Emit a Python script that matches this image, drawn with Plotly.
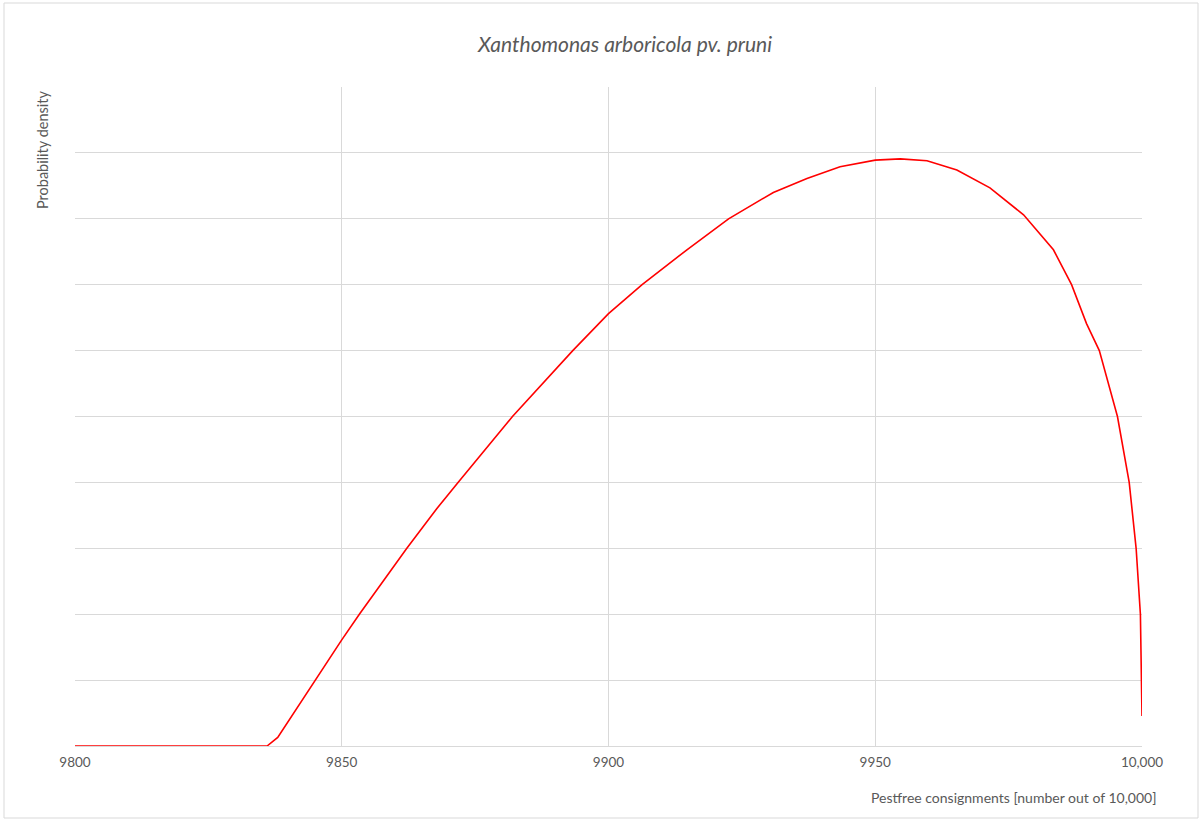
import plotly.graph_objects as go

# (y in arbitrary density units, gridline = 1 unit)
consignments = [9800, 9836, 9838, 9845, 9850, 9853.3, 9862.2, 9867.8, 9871.8, 9882,
                9888.3, 9893.3, 9900, 9906.3, 9914.7, 9922.5, 9930.9, 9937.2, 9943.4, 9950,
                9954.7, 9959.7, 9965.3, 9971.5, 9977.8, 9980.9, 9983.4, 9986.8, 9989.6, 9992.0,
                9994.0, 9995.4, 9997.6, 9998.9, 9999.7, 9999.97, 10000]
density = [0, 0, 0.13, 1, 1.61, 2, 3, 3.6, 4, 5,
           5.55, 6, 6.56, 7, 7.53, 8, 8.40, 8.61, 8.79, 8.89,
           8.91, 8.88, 8.74, 8.47, 8.06, 7.76, 7.53, 7, 6.41, 6,
           5.40, 5, 4, 3, 2, 1, 0.455]

tick_vals = [9800, 9850, 9900, 9950, 10000]
tick_text = ["9800", "9850", "9900", "9950", "10,000"]

title_text = "Xanthomonas arboricola pv. pruni"
x_title = "Pestfree consignments [number out of 10,000]"
y_title = "Probability density"

FONT = "Lato"
TXT = "#595959"
GRID = "#d9d9d9"

fig = go.Figure()
fig.add_trace(go.Scatter(x=consignments, y=density, mode="lines",
                         line=dict(color="#ff0000", width=1.6),
                         showlegend=False, hoverinfo="x+y"))

L, R, T, B = 75, 61, 87, 74
W, H = 1203, 820
pw, ph = W - L - R, H - T - B

def px(xp):
    return (xp - L) / pw

def py(yp):
    return (H - B - yp) / ph

fig.update_layout(
    width=W, height=H,
    margin=dict(l=L, r=R, t=T, b=B, autoexpand=False),
    paper_bgcolor="white", plot_bgcolor="white",
    font=dict(family=FONT, color=TXT, size=13),
    xaxis=dict(range=[9800, 10000], tickvals=tick_vals, ticktext=tick_text,
               showgrid=True, gridcolor=GRID, gridwidth=1,
               zeroline=False, showline=True, linecolor=GRID, linewidth=1,
               ticks="outside", ticklen=4, tickcolor="rgba(0,0,0,0)",
               tickfont=dict(family=FONT, size=13.5, color=TXT)),
    yaxis=dict(range=[0, 10], dtick=1, showticklabels=False, showgrid=True,
               gridcolor=GRID, gridwidth=1, zeroline=False, showline=False),
    shapes=[dict(type="rect", xref="paper", yref="paper",
                 x0=px(4), x1=px(1198), y0=py(818), y1=py(3),
                 line=dict(color=GRID, width=1), fillcolor="rgba(0,0,0,0)", layer="below")],
    annotations=[
        dict(text="<i>" + title_text + "</i>", xref="paper", yref="paper",
             x=px(624), y=py(43), xanchor="center", yanchor="middle", showarrow=False,
             font=dict(family=FONT, size=21, color=TXT)),
        dict(text=x_title, xref="paper", yref="paper",
             x=px(1158), y=py(797), xanchor="right", yanchor="middle", showarrow=False,
             font=dict(family=FONT, size=14, color=TXT)),
        dict(text=y_title, xref="paper", yref="paper", textangle=-90,
             x=px(42), y=py(89), xanchor="center", yanchor="top", showarrow=False,
             font=dict(family=FONT, size=14.5, color=TXT)),
    ],
)

fig.write_html("out.html", config={"displayModeBar": False},
               post_script="document.body.style.margin='0px';")
